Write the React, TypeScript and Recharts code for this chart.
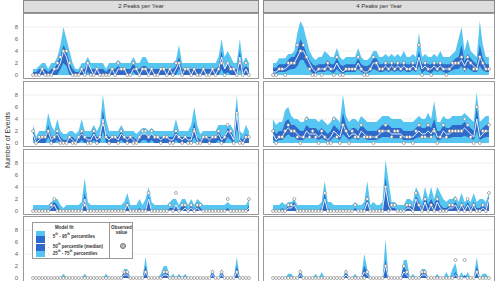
import { ComposedChart, Area, Line, XAxis, YAxis, CartesianGrid } from "recharts";

// 72 time steps per panel
const FLOOR = [
  0,0,0,0,0,0,0,0,0,0,0,0, 0,0,0,0,0,0,0,0,0,0,0,0, 0,0,0,0,0,0,0,0,0,0,0,0,
  0,0,0,0,0,0,0,0,0,0,0,0, 0,0,0,0,0,0,0,0,0,0,0,0, 0,0,0,0,0,0,0,0,0,0,0,0,
];

const Y_TICKS = [0, 2, 4, 6, 8];
const HEADERS = ["2 Peaks per Year", "4 Peaks per Year"];

// row 1 left
const A_OBS = [0,0,0,1,0,0,0,1,2,3,4,4, 2,0,0,0,1,0,2,0,0,1,0,0, 0,0,1,0,2,1,1,0,0,2,1,0, 1,1,0,1,0,0,1,1,0,1,0,2, 2,0,1,1,0,1,0,0,1,0,0,1, 0,1,2,0,2,1,1,0,2,0,2,0];
const A_P25 = [0,0,0,0,0,0,0,0,0,1,2,1.5, 0,0,0,0,0,0,0.5,0,0,0,0,0, 0,0,0,0,0,0,0,0,0,0.5,0,0, 0,0,0,0,0,0,0,0,0,0,0,0, 1,0,0,0,0,0,0,0,0,0,0,0, 0,0,1,0,0.5,0,0,0,1,0,0,0];
const A_P50 = [0,0,0,1,0,0,0,1,1,2,4,3, 1,0,0,0,1,0,2,1,0,1,0,0, 0,0,1,0,1,1,1,0,0,1,1,0, 1,1,0,1,0,0,1,1,0,1,0,1, 2,0,1,1,0,1,0,0,1,0,0,1, 0,1,3,1,2,1,1,0,3,0,1,0];
const A_P75 = [0.5,0.5,1,1,1,0.5,1,1,2,3,5,4, 2,1,0.5,0.5,1,1,2,1,1,1,1,1, 0.5,1,1,1,1.5,1,1,1,1,2,1,1, 1.5,1.5,1,1,1,1,1,1,1,1,1,1.5, 3,1,1,1,1,1,1,1,1,1,1,1, 1,1.5,4,1,2,1.5,1,1,4,1,1.5,1];
const A_P95 = [1,1,1.5,2,2,1,2,2,3,5,8,6, 4,2,1,1,2,2,3,2,2,2,2,2, 1,2,2,2,2.5,2,2,2,2,3,2,2, 3,3,2,2,2,2,2,2,2,2,2,2.5, 5,2,2,2,2,2,2,2,2,2,2,2, 2,3,6,3,4,3,2,2,6,2,3,2];

// row 1 right
const B_OBS = [0,0,1,1,0,2,2,2,5,4,5,3, 1,0,0,1,0,1,2,1,0,3,0,0, 1,1,1,1,3,1,0,0,1,3,2,1, 1,2,1,2,1,2,1,2,1,1,2,1, 5,0,2,1,0,2,1,2,1,0,1,2, 2,2,3,1,3,2,1,1,3,2,1,1];
const B_P25 = [0.3,0.3,0.5,0.5,0.5,0.8,1,1,1.5,2.5,2.5,1.5, 0.8,0.3,0.3,0.5,0.5,0.5,0.8,0.5,0.3,1,0.5,0.3, 0.5,0.5,0.5,0.5,1,0.5,0.3,0.3,0.5,1,0.8,0.5, 0.5,0.8,0.5,0.8,0.5,0.8,0.5,0.8,0.5,0.5,0.8,0.5, 1.5,0.3,0.8,0.5,0.3,0.8,0.5,0.8,0.5,0.3,0.5,0.8, 1,1,1.5,0.5,1.2,0.8,0.5,0.5,1.5,0.8,0.5,0.5];
const B_P50 = [0.5,0.5,1,1,1,1.5,2,2,3,4,4,3, 2,1,0.5,1,1,1,1.5,1,1,2,1,0.5, 1,1,1,1,2,1,0.5,0.5,1,2,2,1, 1,1.5,1,1.5,1,1.5,1,1.5,1,1,1.5,1, 3,1,1.5,1,1,1.5,1,1.5,1,1,1,1.5, 2,2,2.5,1.5,2.5,2,1.5,1,3,2,1,1];
const B_P75 = [1.2,1.2,1.8,1.8,1.8,2.5,3,3,4,6,5,3.5, 2.5,1.8,1.5,1.8,1.8,1.8,2.5,1.8,1.8,2.8,1.8,1.5, 1.8,1.8,1.8,1.8,2.8,1.8,1.5,1.5,1.8,2.8,2.8,1.8, 1.8,2.2,1.8,2.2,1.8,2.2,1.8,2.2,1.8,1.8,2.2,1.8, 4,1.8,2.2,1.8,1.8,2.2,1.8,2.2,1.8,1.8,1.8,2.2, 2.8,3,5,2.2,3.5,2.8,2.2,1.8,5,2.8,1.8,1.8];
const B_P95 = [2,2,2.8,2.8,2.8,3.5,3.5,4,7,9,8,6, 4,3,2.5,3,3,4,3.5,3,3,4.5,3,2.5, 3,3,3,3,4.5,3,2.5,2.5,3,4,4,3, 3,3.5,3,3.5,3,3.5,3,4,3,3,3.5,3, 7,3,3.5,3,3,3.5,3,4,3,3,3,3.5, 4,6,8,4,6,4,3.5,3,9,5,3,3];

// row 2 left
const C_OBS = [2,0,1,1,1,2,0,1,2,0,0,0, 1,0,0,1,2,1,0,0,2,0,1,3, 1,0,1,1,0,2,1,0,1,0,0,1, 2,2,1,2,1,1,0,1,1,0,0,2, 1,0,1,0,0,2,0,0,1,1,0,1, 1,2,0,1,3,2,0,5,0,0,1,1];
const C_P25 = [0.5,0,0,0,0,1,0,0,0.5,0,0,0, 0,0,0,0,0.5,0,0,0,0.5,0,0,2, 0,0,0,0,0,0.5,0,0,0,0,0,0, 0.5,0.5,0,0.5,0,0,0,0,0,0,0,0.5, 0,0,0,0,0,1,0,0,0,0,0,0, 0,0.5,0,0,1,0.5,0,2.5,0,0,0,0];
const C_P50 = [1.5,0,0.5,1,1,2,0.5,1,1.5,0.5,0,0, 1,0.5,0,1,1.5,1,0.5,0.5,1.5,0.5,1,4, 1,0.5,1,1,0.5,1.5,1,0.5,1,0.5,0,1, 1.5,1.5,1,1.5,1,1,0.5,1,1,0.5,0.5,1.5, 1,0.5,1,0.5,0.5,2.5,0.5,0,1,1,0.5,1, 1,1.5,0.5,1,2,1.5,0.5,5,0.5,0,1,1];
const C_P75 = [2,0.5,1,1,1,3,1,1,2,1,0.5,0.5, 1,1,0.5,1,2,1,1,1,2,1,1,5.5, 1.5,1,1,1,1,2,1,1,1,1,0.5,1, 1.5,1.5,1,1.5,1,1,1,1,1,1,1,2, 1,1,1,1,1,3.5,1,0.5,1,1,1,1, 1,2,1,1,2.5,2,1,6,1,0.5,1.5,1];
const C_P95 = [3,1,2,2,2,5,3,2,4,2,1.5,1.5, 2,2,1.5,2,4,2,2,2,3,2,3,8, 4,2,2,2,2,3,2,2,2,2,1.5,2, 2.5,2.5,2,2.5,2,2,2,2,2,2,2,4, 2,2,2,2,3,6,3,1.5,2,2,2,2, 2,3,3,3,3,3,2,8,2,1.5,3,2];

// row 2 right
const D_OBS = [2,0,1,1,2,3,2,2,1,0,1,4, 1,2,1,0,2,1,0,0,4,1,0,3, 2,0,2,1,1,3,1,1,1,0,1,2, 2,3,2,1,2,2,1,0,1,1,0,2, 3,1,1,3,1,2,0,1,3,1,2,2, 2,2,2,4,3,1,0,6,0,2,2,3];
const D_P25 = [0.5,0.3,0.5,0.5,1,1.5,1,1,0.5,0.5,0.5,1, 0.8,0.8,0.8,0.5,0.8,0.5,0.3,0.5,1,0.8,0.5,1.5, 1,0.5,0.8,0.8,0.5,1,0.8,0.5,0.5,0.5,0.5,0.8, 1,1,1,0.8,0.8,0.8,0.8,0.5,0.5,0.5,0.5,0.8, 1,0.8,0.8,1,0.8,1.5,0.5,0.5,1,0.8,0.8,1, 1,1,1,1.2,1,0.8,0.5,2,0.5,0.8,1,1];
const D_P50 = [1.5,0.5,1,1,2,2.5,2,2,1.5,1,1,2, 1.5,1.5,1.5,1,1.5,1,0.5,1,2,1.5,1,3, 2,1,1.5,1.5,1,2,1.5,1,1,1,1,1.5, 2,2,2,1.5,1.5,1.5,1.5,1,1,1,1,1.5, 2,1.5,1.5,2,1.5,2.5,1,1,2,1.5,1.5,2, 2,2,2,2.5,2,1.5,1,4,1,1.5,2,2];
const D_P75 = [2.5,1.5,2,2,3.5,4,3,3,2.5,2,2,3, 2.5,2.5,2.5,2,2.5,2,1.5,2,3,2.5,2,5, 3,2,2.5,2.5,2,3,2.5,2,2,2,2,2.5, 3,3,3,2.5,2.5,2.5,2.5,2,2,2,2,2.5, 3,2.5,2.5,3,2.5,4,2,2,3,2.5,2.5,3, 3,3,3,3.5,3,2.5,2,6,2,2.5,3,3];
const D_P95 = [4,3,3.5,3.5,5.5,6,4.5,4,4,3.5,3.5,4.5, 4,4,4,3.5,4,3.5,3,3.5,4.5,4,3.5,8, 4.5,3.5,4,4,3.5,4.5,4,3.5,3.5,3.5,3.5,4, 4.5,4.5,4.5,4,4,4,4,3.5,3.5,3.5,3.5,4, 4.5,4,4,5,4,7,3.5,3.5,4.5,4,4,4.5, 4.5,4.5,4.5,5,4.5,4,3.5,8.5,3.5,4,4.5,4.5];

// row 3 left
const E_OBS = [0,0,0,0,0,0,1,2,0,0,0,0, 0,0,0,0,0,1,0,0,0,0,0,0, 0,0,0,0,0,0,0,1,0,0,0,0, 0,0,3,0,0,0,0,0,0,1,0,3, 0,1,1,0,1,0,1,1,0,0,0,0, 0,0,0,0,2,0,0,0,0,0,0,2];
const E_P50 = [0,0,0,0,0,0,0.5,1,0,0,0,0, 0,0,0,0,0,2,0,0,0,0,0,0, 0,0,0,0,0,0,0,1,0,0,0,0, 0,0,2,0,0,0,0,0,0,0,0,1, 0,0,0.5,0,0.5,0,0.5,0,0,0,0,0, 0,0,0,0,0,0,0,0,0,0,0,0.5];
const E_P75 = [0,0,0,0,0,0,1,1.5,1,0,0,0, 0,0,0,0,0,3,0,0,0,0,0,0, 0,0,0,0,0,0,0,1.5,0,0,0,0.5, 0,0.5,2.5,0,0,0,0,0,0,0.5,0.5,1, 0,1,1,0,1,0,1,0.5,0,0,0,0, 0,0,0,0,0.5,0,0,0,0,0,0,1];
const E_P95 = [1,1,1,1,1,1,1.5,2,2,1,0.5,1, 1,1,1,1,1.5,5.5,1.5,1,1,1,1,1, 1,1,1,1,1,1,1.5,3,1,1,1,2, 1,2,4,1.5,1,1,1,1,1,1.5,2,2, 1,2,2,1,2,1,2,1.5,1,1,1,1, 1,1,1,1,1.5,1,1,1,1,1,1,2];

// row 3 right
const F_OBS = [0,0,0,0,0,1,1,2,0,0,0,0, 0,0,0,0,0,3,0,0,0,0,0,0, 0,0,0,1,0,0,0,2,0,0,0,0, 0,4,0,1,1,0,0,0,1,1,0,3, 1,0,2,0,1,0,2,0,0,0,1,1, 2,0,1,0,2,0,1,0,0,1,0,3];
const F_P50 = [0,0,0,0,0,0.5,0.5,1,0,0,0,0, 0,0,0,0,0,2,0,0,0,0,0,0, 0,0,0,0,0,0,0,1.5,0,0,0,0, 0,4,1,0,0,0,0,0,0.5,0.5,0,2, 1,0,1.5,0,1,0,1.5,0.5,0,0,0.5,0.5, 1,0,1,0,1,0,1,0,0,0.5,0,2];
const F_P75 = [0,0,0,0.5,0,1,1,1.5,0,0,0,0, 0,0,0,0,0.5,3,0.5,0,0,0,0,0, 0,0,0,0.5,0,0,0.5,2.5,0,0,0,0, 0.5,5.5,2,0.5,0.5,0,0,0,1,1,0.5,2.5, 1.5,0.5,2.5,1,2,1,2.5,1,0.5,0.5,1,1, 1.5,0.5,1.5,0.5,1.5,0.5,1.5,0.5,0.5,1,0.5,2.5];
const F_P95 = [1,1,1,1.5,1,1.5,1.5,2,1,1,1,1, 1,1,1,1,1.5,5,1.5,1.5,1,1,1,1, 1,1,1,1.5,1,1,1.5,5,1,1.5,1,1, 1.5,8.5,5,1.5,1.5,1,1,1,2,2,1.5,4, 3,1.5,4,2,4,2,4,3,2,1.5,2,2, 2.5,1.5,3,1.5,2,1.5,3,1.5,2,2,1.5,3];

// row 4 left
const G_OBS = [0,0,0,0,0,0,0,0,0,0,0,0, 0,0,0,0,0,0,0,0,0,0,0,0, 0,0,0,0,0,0,1,1,0,0,0,0, 0,1,0,0,0,0,0,1,1,0,0,0, 0,0,0,0,0,0,0,0,0,0,0,1, 0,0,1,0,0,0,0,1,0,0,0,0];
const G_P50 = [0,0,0,0,0,0,0,0,0,0,0,0, 0,0,0,0,0,0,0,0,0,0,0,0, 0,0,0,0,0,0,0.5,0.5,0,0,0,0, 0,1,0,0,0,0,0,0.5,0.5,0,0,0, 0,0,0,0,0,0,0,0,0,0,0,0.5, 0,0,0.5,0,0,0,0,1,0,0,0,0];
const G_P75 = [0,0,0,0,0,0,0,0,0,0,0,0, 0,0,0,0,0,0,0,0,0,0,0,0, 0,0,0,0,0,0,1,1,0,0,0,0, 0,2,0,0,0,0,0,1,1,0,0,0, 0,0,0,0,0,0,0,0,0,0,0,1, 0,0,1,0,0,0,0,2,0,0,0,0];
const G_P95 = [0,0,0,0,0,0,0,0,0,0,0.7,0, 0,0,0,0,0,0.7,0,0,0,0,0,0, 0.7,0,0,0,0,0,1.5,1.5,0,0,0,0, 0,3.5,0,0,0,0,0.7,2,2,0,0.7,0, 0.7,0,0.7,0,0,0,0,0,0,0,0,1.5, 0,0,1.5,0,0,0,0,3.5,0,0,0,0];

// row 4 right
const H_OBS = [0,0,0,0,0,0,0,0,0,1,0,0, 0,0,0,0,0,0,0,0,0,0,0,0, 1,0,0,0,0,0,0,1,0,0,0,0, 0,2,0,0,0,0,0,2,1,0,0,0, 0,1,1,0,0,0,0,0,0,0,0,0, 3,0,0,3,0,0,0,1,0,0,0,0];
const H_P50 = [0,0,0,0,0,0,0,0,0,0.5,0,0, 0,0,0,0,0,0,0,0,0,0,0,0, 0.5,0,0,0,0,0,1,0.5,0,0,0,0, 0,2,0,0,0,0,0,1,0.5,0,0,0, 0,0.5,0.5,0,0,0,0,0,0,0,0,0, 0.5,0,0,0,0,0,0,1,0,0,0,0];
const H_P75 = [0,0,0,0,0,0,0,0,0,1,0,0, 0,0,0,0,0,0,0,0,0,0,0,0, 1,0,0,0,0,0,2,1,0,0,0,0, 0,3,0,0,0,0,0,2,1,0,0,0, 0,1,1,0,0,0,0,0,0,0,0,0, 1,0,0,0.5,0,0,0,2,0,0,0,0];
const H_P95 = [0,0,0,0,0,0.7,0.7,0,0,1.5,0,0, 0,0,0.7,0,1,0,0,0,0,0,0,0, 1.5,0,0,0.7,0,0,4,1.5,0,0,0,0, 0,6.5,0,0,0,0,0,3,3,0,0.7,0, 0,1.5,1.5,0,0,0,0.7,0,0,1,0,1.5, 2.5,0,1,0,1,0,0,3.5,0,0.7,0.7,0];

const LIGHT = "#55c5f1";
const DARK = "#2d6acb";
const FONT = "'Liberation Sans', Arial, sans-serif";

type Series = { obs: number[]; p25: number[]; p50: number[]; p75: number[]; p95: number[] };

const PANELS: Series[][] = [
  [{ obs: A_OBS, p25: A_P25, p50: A_P50, p75: A_P75, p95: A_P95 }, { obs: B_OBS, p25: B_P25, p50: B_P50, p75: B_P75, p95: B_P95 }],
  [{ obs: C_OBS, p25: C_P25, p50: C_P50, p75: C_P75, p95: C_P95 }, { obs: D_OBS, p25: D_P25, p50: D_P50, p75: D_P75, p95: D_P95 }],
  [{ obs: E_OBS, p25: FLOOR, p50: E_P50, p75: E_P75, p95: E_P95 }, { obs: F_OBS, p25: FLOOR, p50: F_P50, p75: F_P75, p95: F_P95 }],
  [{ obs: G_OBS, p25: FLOOR, p50: G_P50, p75: G_P75, p95: G_P95 }, { obs: H_OBS, p25: FLOOR, p50: H_P50, p75: H_P75, p95: H_P95 }],
];

const COLS = [
  { left: 0, width: 259, boxLeft: 23, boxWidth: 236, showY: true, xDomain: [-3.3, 74.3] },
  { left: 263, width: 232, boxLeft: 263, boxWidth: 232, showY: false, xDomain: [-3.3, 73.0] },
];
const ROW_TOPS = [13, 81, 149, 216];
const PANEL_H = 66;

function toRows(s: Series) {
  return s.obs.map((o, i) => ({
    i,
    obs: o,
    outer: [FLOOR[i], s.p95[i]],
    inner: [s.p25[i], s.p75[i]],
    med: s.p50[i],
  }));
}

function Panel({ s, col }: { s: Series; col: (typeof COLS)[number] }) {
  return (
    <ComposedChart width={col.width} height={PANEL_H} data={toRows(s)} margin={{ top: 0, right: 0, bottom: 0, left: 0 }}>
      <CartesianGrid vertical={false} stroke="#ebebeb" strokeWidth={0.8} />
      <XAxis type="number" dataKey="i" domain={col.xDomain} hide allowDataOverflow />
      <YAxis
        domain={[-0.667, 10.333]}
        ticks={Y_TICKS}
        hide={!col.showY}
        width={23}
        axisLine={false}
        tickLine={false}
        tickSize={3}
        tickMargin={2}
        tick={{ fontSize: 6, fill: "#666", fontFamily: FONT }}
        allowDataOverflow
      />
      <Area dataKey="outer" type="linear" fill={LIGHT} fillOpacity={1} stroke="none" isAnimationActive={false} />
      <Area dataKey="inner" type="linear" fill={DARK} fillOpacity={1} stroke="none" isAnimationActive={false} />
      <Line dataKey="med" type="linear" stroke="#ffffff" strokeWidth={0.9} dot={false} isAnimationActive={false} />
      <Line
        dataKey="obs"
        type="linear"
        stroke="none"
        dot={{ r: 1.5, fill: "#ffffff", stroke: "#7a7a7a", strokeWidth: 0.6 }}
        isAnimationActive={false}
      />
    </ComposedChart>
  );
}

function Legend() {
  const txt = { position: "absolute" as const, fontSize: 4.5, fontWeight: 700, color: "#333", whiteSpace: "nowrap" as const };
  const sup = { fontSize: 3, verticalAlign: "super" };
  return (
    <div style={{ position: "absolute", left: 32, top: 222, width: 101, height: 37, background: "#fff", border: "1px solid #999", boxSizing: "border-box", fontFamily: FONT, zIndex: 3 }}>
      <div style={{ ...txt, left: 22, top: 2 }}>Model fit</div>
      <div style={{ position: "absolute", left: 3, top: 8, width: 9, height: 26 }}>
        <div style={{ height: 5, background: LIGHT }} />
        <div style={{ height: 7, background: DARK }} />
        <div style={{ height: 1, background: "#fff" }} />
        <div style={{ height: 7, background: DARK }} />
        <div style={{ height: 6, background: LIGHT }} />
      </div>
      <div style={{ ...txt, left: 14, top: 9 }}>
        ← 5<span style={sup}>th</span> - 95<span style={sup}>th</span> percentiles
      </div>
      <div style={{ ...txt, left: 14, top: 19 }}>
        ← 50<span style={sup}>th</span> percentile (median)
      </div>
      <div style={{ ...txt, left: 14, top: 26 }}>
        ← 25<span style={sup}>th</span> - 75<span style={sup}>th</span> percentiles
      </div>
      <div style={{ position: "absolute", left: 76, top: 0, width: 1, height: 35, background: "#999" }} />
      <div style={{ ...txt, left: 77, width: 23, top: 2, textAlign: "center", lineHeight: "5px" }}>
        Observed
        <br />
        value
      </div>
      <div style={{ position: "absolute", left: 87, top: 20, width: 4, height: 4, borderRadius: "50%", background: "#bbb", border: "0.6px solid #777" }} />
    </div>
  );
}

export default function App() {
  return (
    <div style={{ position: "absolute", left: 0, top: 0, width: 497, height: 281, background: "#fff", overflow: "hidden", fontFamily: FONT }}>
      {COLS.map((col, c) => (
        <div
          key={`h${c}`}
          style={{
            position: "absolute",
            left: col.boxLeft,
            top: 0,
            width: col.boxWidth,
            height: 13,
            background: "#dddddd",
            border: "1px solid #888",
            boxSizing: "border-box",
            fontSize: 6,
            color: "#333",
            textAlign: "center",
            lineHeight: "11px",
          }}
        >
          {HEADERS[c]}
        </div>
      ))}
      {PANELS.map((row, r) =>
        row.map((s, c) => (
          <div key={`p${r}${c}`}>
            <div style={{ position: "absolute", left: COLS[c].left, top: ROW_TOPS[r] }}>
              <Panel s={s} col={COLS[c]} />
            </div>
            <div
              style={{
                position: "absolute",
                left: COLS[c].boxLeft,
                top: ROW_TOPS[r],
                width: COLS[c].boxWidth,
                height: PANEL_H,
                border: "1px solid #999",
                boxSizing: "border-box",
                pointerEvents: "none",
                zIndex: 2,
              }}
            />
          </div>
        ))
      )}
      <div
        style={{
          position: "absolute",
          left: 7,
          top: 140,
          transform: "translate(-50%, -50%) rotate(-90deg)",
          fontSize: 7,
          color: "#333",
          whiteSpace: "nowrap",
        }}
      >
        Number of Events
      </div>
      <Legend />
    </div>
  );
}
